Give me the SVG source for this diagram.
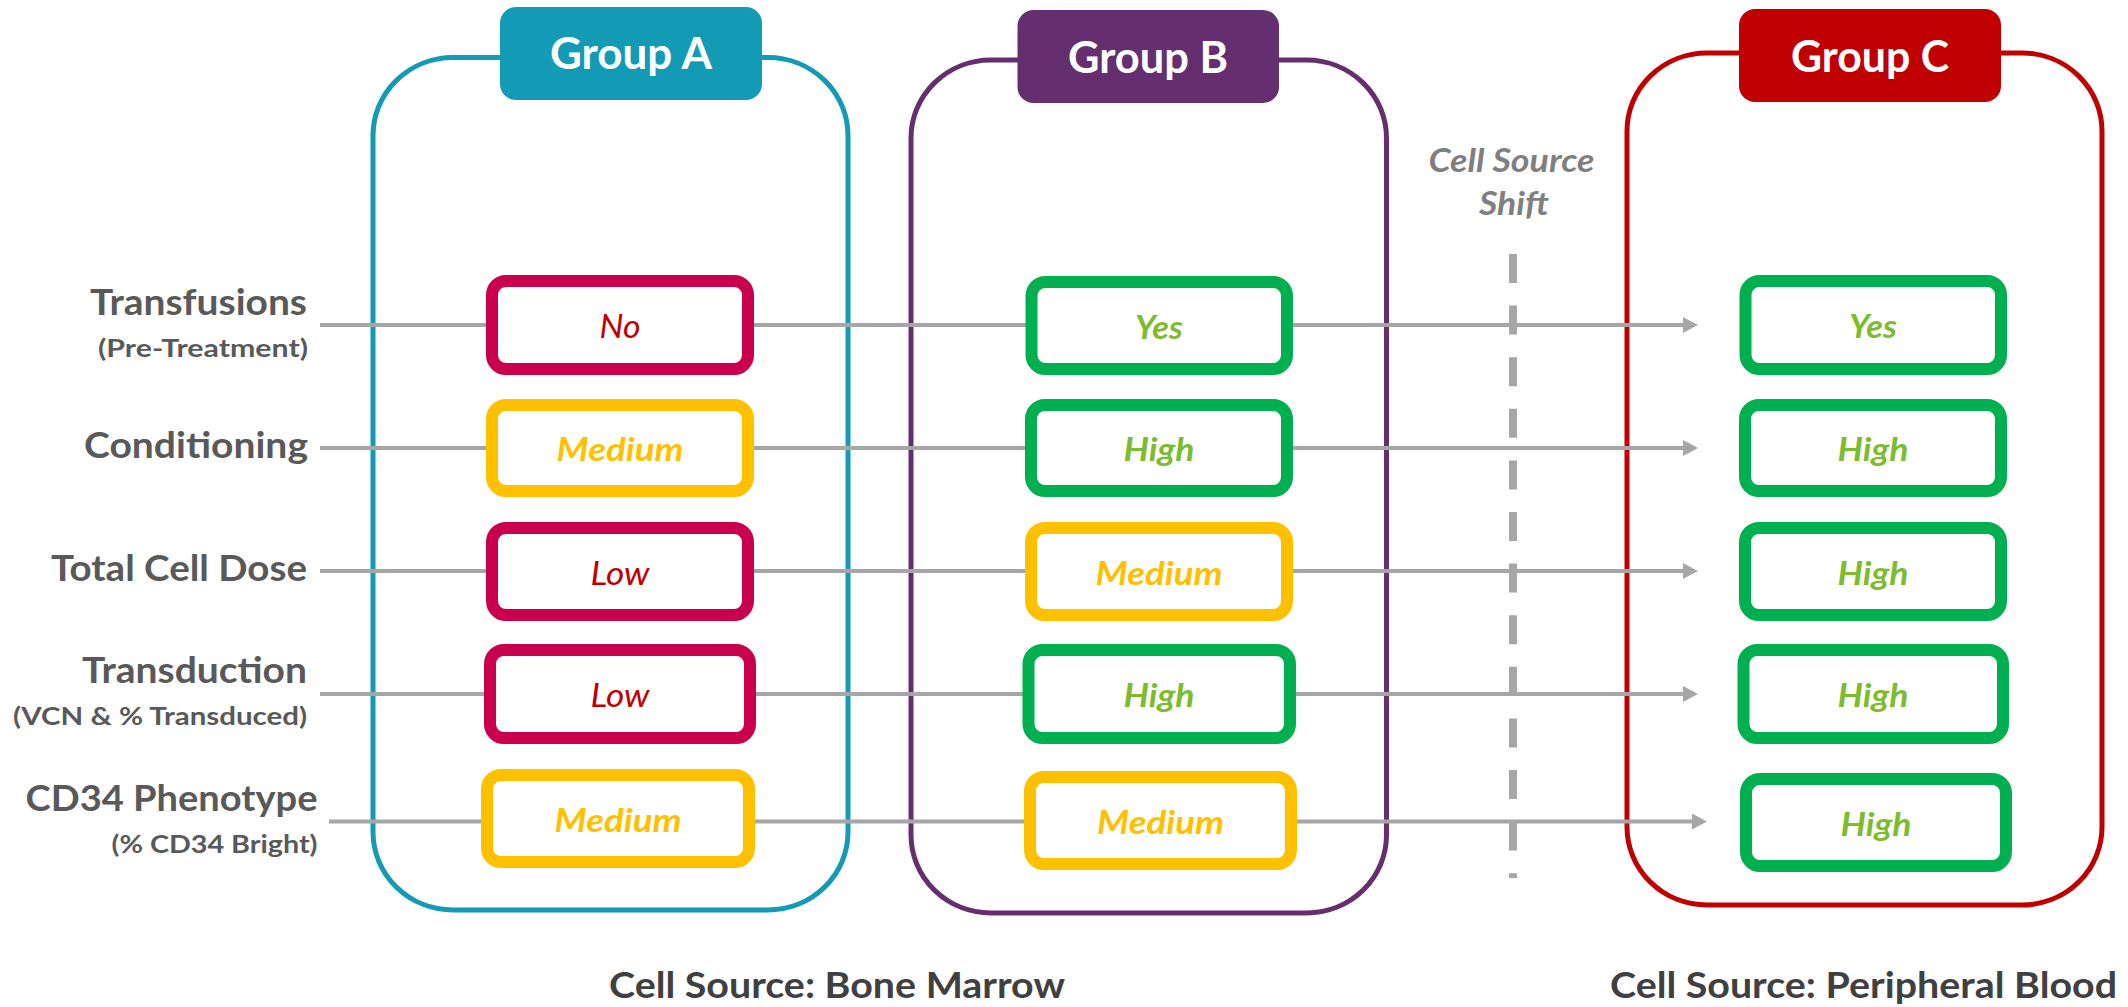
<svg xmlns="http://www.w3.org/2000/svg" width="2128" height="1007" viewBox="0 0 2128 1007">
<style>
text{font-family:Lato,"Liberation Sans",sans-serif;}
.cont{fill:none;stroke-width:5;}
.tabt{fill:#fff;font-weight:700;font-size:43px;text-anchor:middle;}
.lbl{fill:#595959;font-weight:700;font-size:36px;text-anchor:end;}
.sub{fill:#595959;font-weight:700;font-size:24px;text-anchor:end;}
.box{fill:#fff;stroke-width:12;}
.red{stroke:#C8004E;}
.yel{stroke:#FFC000;}
.grn{stroke:#00B050;}
.val{font-size:33px;font-style:italic;text-anchor:middle;}
.tred{fill:#C00000;font-weight:400;}
.tyel{fill:#FFC000;font-weight:700;}
.tgrn{fill:#7DBB2F;font-weight:700;}
.conn{stroke:#A6A6A6;stroke-width:4;fill:none;}
.shift{fill:#7F7F7F;font-weight:700;font-style:italic;font-size:32px;text-anchor:middle;}
.bot{fill:#404040;font-weight:700;font-size:36px;text-anchor:middle;}
</style>
<defs>
<marker id="arr" markerUnits="userSpaceOnUse" markerWidth="16" markerHeight="16" refX="0" refY="8" orient="auto">
<path d="M0,0 L15,8 L0,16 z" fill="#A6A6A6"/>
</marker>
</defs>

<g id="group-a">
<rect class="cont" x="373" y="57.5" width="475" height="852.5" rx="80" ry="78" stroke="#139AB5"/>
<rect x="500" y="7" width="262" height="93" rx="16" fill="#139AB5"/>
<text class="tabt" x="631" y="69" textLength="162" lengthAdjust="spacingAndGlyphs">Group A</text>
</g>
<g id="group-b">
<rect class="cont" x="911" y="60" width="475.5" height="853" rx="80" ry="78" stroke="#652F6F"/>
<rect x="1017.5" y="10" width="261.5" height="93" rx="16" fill="#652F6F"/>
<text class="tabt" x="1148" y="72.5" textLength="160" lengthAdjust="spacingAndGlyphs">Group B</text>
</g>
<g id="group-c">
<rect class="cont" x="1627" y="53" width="475" height="852" rx="80" ry="78" stroke="#C00000"/>
<rect x="1739" y="9" width="262" height="93" rx="16" fill="#C00000"/>
<text class="tabt" x="1870" y="71.5" textLength="158" lengthAdjust="spacingAndGlyphs">Group C</text>
</g>

<g id="shift">
<line x1="1513" y1="254" x2="1513" y2="878" stroke="#A6A6A6" stroke-width="8" stroke-dasharray="29 22.6"/>
<text class="shift" x="1511.5" y="171.5" textLength="166" lengthAdjust="spacingAndGlyphs">Cell Source</text>
<text class="shift" x="1514" y="215" textLength="70" lengthAdjust="spacingAndGlyphs">Shift</text>
</g>

<g id="connectors">
<line class="conn" x1="320" y1="325" x2="1683" y2="325" marker-end="url(#arr)"/>
<line class="conn" x1="320" y1="448" x2="1683" y2="448" marker-end="url(#arr)"/>
<line class="conn" x1="320" y1="571" x2="1683" y2="571" marker-end="url(#arr)"/>
<line class="conn" x1="320" y1="694" x2="1683" y2="694" marker-end="url(#arr)"/>
<line class="conn" x1="329" y1="821.5" x2="1692" y2="821.5" marker-end="url(#arr)"/>
</g>

<g id="label-transfusions">
<text class="lbl" x="307" y="315" textLength="217" lengthAdjust="spacingAndGlyphs">Transfusions</text>
<text class="sub" x="308" y="357" textLength="210" lengthAdjust="spacingAndGlyphs">(Pre-Treatment)</text>
</g>
<g id="label-conditioning">
<text class="lbl" x="308" y="458" textLength="224" lengthAdjust="spacingAndGlyphs">Conditioning</text>
</g>
<g id="label-dose">
<text class="lbl" x="307" y="581" textLength="256" lengthAdjust="spacingAndGlyphs">Total Cell Dose</text>
</g>
<g id="label-transduction">
<text class="lbl" x="307" y="683" textLength="225" lengthAdjust="spacingAndGlyphs">Transduction</text>
<text class="sub" x="307" y="725" textLength="294" lengthAdjust="spacingAndGlyphs">(VCN &amp; % Transduced)</text>
</g>
<g id="label-cd34">
<text class="lbl" x="317.5" y="811" textLength="292" lengthAdjust="spacingAndGlyphs">CD34 Phenotype</text>
<text class="sub" x="317.5" y="853" textLength="206" lengthAdjust="spacingAndGlyphs">(% CD34 Bright)</text>
</g>

<g id="a1"><rect class="box red" x="492" y="281" width="256" height="88" rx="14"/><text class="val tred" x="620" y="338" textLength="41" lengthAdjust="spacingAndGlyphs">No</text></g>
<g id="a2"><rect class="box yel" x="492" y="405" width="256" height="86" rx="14"/><text class="val tyel" x="620" y="461" textLength="127" lengthAdjust="spacingAndGlyphs">Medium</text></g>
<g id="a3"><rect class="box red" x="492" y="528" width="256" height="87" rx="14"/><text class="val tred" x="620" y="584.5" textLength="59" lengthAdjust="spacingAndGlyphs">Low</text></g>
<g id="a4"><rect class="box red" x="490" y="650" width="260" height="88" rx="14"/><text class="val tred" x="620" y="707" textLength="59" lengthAdjust="spacingAndGlyphs">Low</text></g>
<g id="a5"><rect class="box yel" x="487" y="775" width="262" height="87" rx="14"/><text class="val tyel" x="618" y="831.5" textLength="127" lengthAdjust="spacingAndGlyphs">Medium</text></g>

<g id="b1"><rect class="box grn" x="1031.5" y="282" width="255.5" height="87" rx="14"/><text class="val tgrn" x="1159" y="338.5" textLength="48" lengthAdjust="spacingAndGlyphs">Yes</text></g>
<g id="b2"><rect class="box grn" x="1031" y="405" width="256" height="86" rx="14"/><text class="val tgrn" x="1159" y="461" textLength="71" lengthAdjust="spacingAndGlyphs">High</text></g>
<g id="b3"><rect class="box yel" x="1031" y="528" width="256" height="87" rx="14"/><text class="val tyel" x="1159" y="584.5" textLength="127" lengthAdjust="spacingAndGlyphs">Medium</text></g>
<g id="b4"><rect class="box grn" x="1028.5" y="650" width="261.5" height="88" rx="14"/><text class="val tgrn" x="1159" y="707" textLength="71" lengthAdjust="spacingAndGlyphs">High</text></g>
<g id="b5"><rect class="box yel" x="1030" y="777" width="261" height="87" rx="14"/><text class="val tyel" x="1160.5" y="833.5" textLength="127" lengthAdjust="spacingAndGlyphs">Medium</text></g>

<g id="c1"><rect class="box grn" x="1745.5" y="281" width="255.5" height="88" rx="14"/><text class="val tgrn" x="1873" y="338" textLength="48" lengthAdjust="spacingAndGlyphs">Yes</text></g>
<g id="c2"><rect class="box grn" x="1745" y="405" width="256" height="86" rx="14"/><text class="val tgrn" x="1873" y="461" textLength="71" lengthAdjust="spacingAndGlyphs">High</text></g>
<g id="c3"><rect class="box grn" x="1745" y="528" width="256" height="87" rx="14"/><text class="val tgrn" x="1873" y="584.5" textLength="71" lengthAdjust="spacingAndGlyphs">High</text></g>
<g id="c4"><rect class="box grn" x="1743.5" y="650" width="259.5" height="88" rx="14"/><text class="val tgrn" x="1873" y="707" textLength="71" lengthAdjust="spacingAndGlyphs">High</text></g>
<g id="c5"><rect class="box grn" x="1746" y="779" width="260" height="87" rx="14"/><text class="val tgrn" x="1876" y="835.5" textLength="71" lengthAdjust="spacingAndGlyphs">High</text></g>

<g id="footer-bm"><text class="bot" x="837" y="998" textLength="456" lengthAdjust="spacingAndGlyphs">Cell Source: Bone Marrow</text></g>
<g id="footer-pb"><text class="bot" x="1863.5" y="998" textLength="507" lengthAdjust="spacingAndGlyphs">Cell Source: Peripheral Blood</text></g>
</svg>
